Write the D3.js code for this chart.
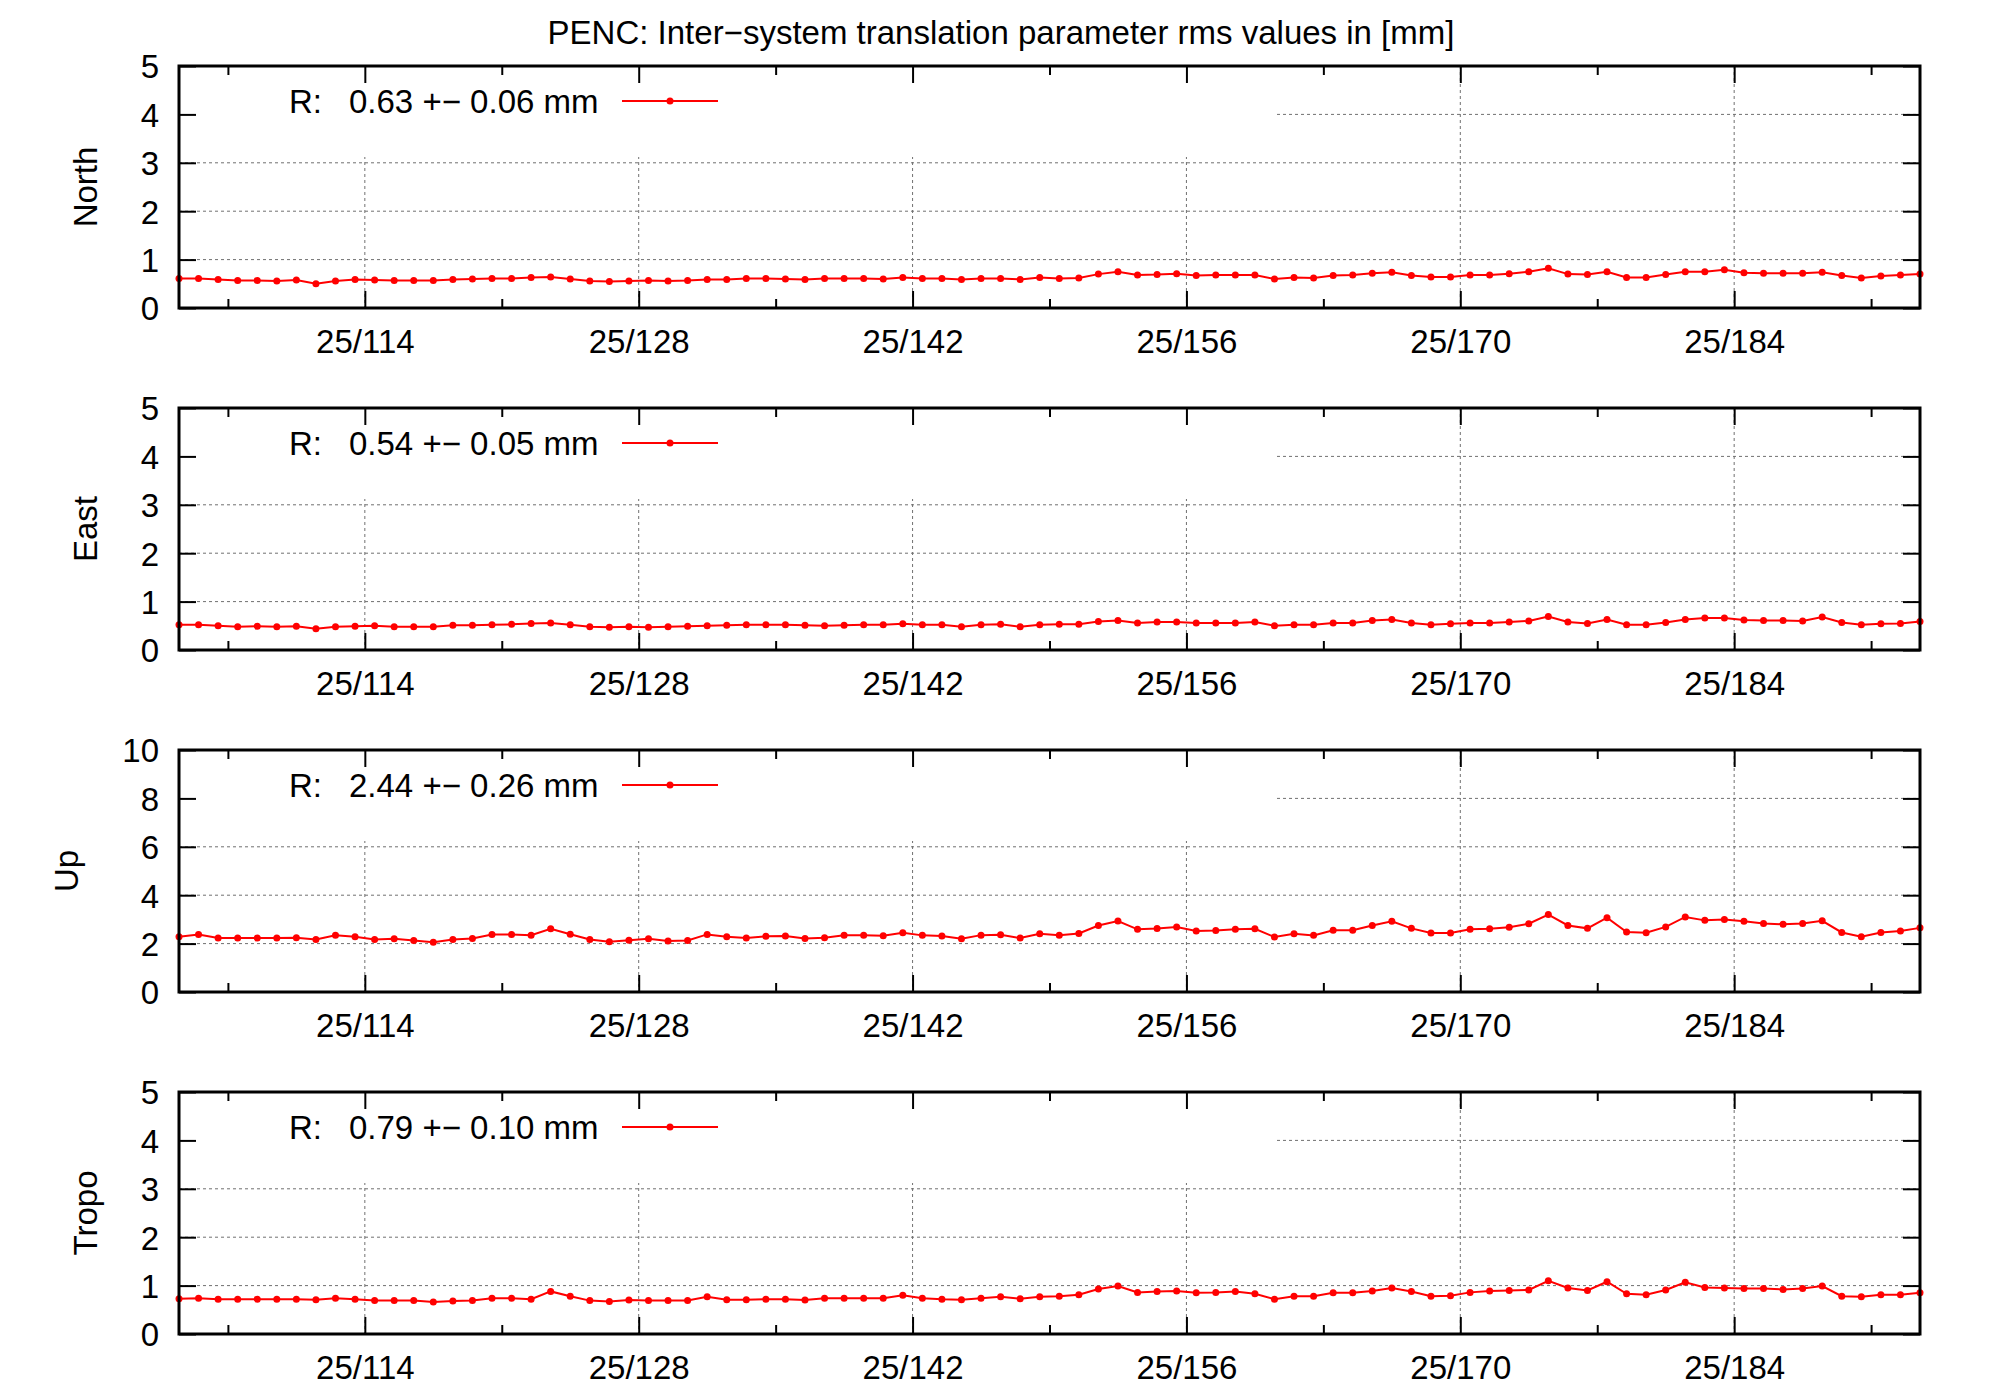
<!DOCTYPE html>
<html>
<head>
<meta charset="utf-8">
<title>PENC inter-system translation rms</title>
<script src="https://cdnjs.cloudflare.com/ajax/libs/d3/7.8.5/d3.min.js"></script>
<style>
	body { margin: 0; background: #ffffff; }
	text { font-family: "Liberation Sans", Arial, Helvetica, sans-serif; font-size: 33px; fill: #000000; }
</style>
</head>
<body>
<svg id="chart" width="2000" height="1400"></svg>
<script>

// day of year 2025, one solution per day (plotted at noon)
var days = [
	104,105,106,107,108,109,110,111,112,113,
	114,115,116,117,118,119,120,121,122,123,
	124,125,126,127,128,129,130,131,132,133,
	134,135,136,137,138,139,140,141,142,143,
	144,145,146,147,148,149,150,151,152,153,
	154,155,156,157,158,159,160,161,162,163,
	164,165,166,167,168,169,170,171,172,173,
	174,175,176,177,178,179,180,181,182,183,
	184,185,186,187,188,189,190,191,192,193
];

var xTickDays = [114, 128, 142, 156, 170, 184];
var xTickLabels = ["25/114", "25/128", "25/142", "25/156", "25/170", "25/184"];
var xMinorDays = [107, 121, 135, 149, 163, 177, 191];

var panelNames = ["North", "East", "Up", "Tropo"];
var panelYMax = [5, 5, 10, 5];
var keyValues = ["0.63 +\u2212 0.06 mm", "0.54 +\u2212 0.05 mm", "2.44 +\u2212 0.26 mm", "0.79 +\u2212 0.10 mm"];

var northRms = [
	0.61,0.61,0.59,0.57,0.57,0.56,0.58,0.50,0.56,0.59,
	0.58,0.57,0.57,0.57,0.59,0.60,0.61,0.61,0.63,0.64,
	0.60,0.56,0.55,0.56,0.57,0.56,0.57,0.59,0.59,0.61,
	0.61,0.60,0.59,0.61,0.61,0.61,0.60,0.63,0.61,0.61,
	0.59,0.61,0.61,0.59,0.63,0.61,0.62,0.70,0.75,0.68,
	0.69,0.71,0.67,0.68,0.68,0.68,0.60,0.63,0.62,0.67,
	0.68,0.72,0.74,0.67,0.64,0.64,0.68,0.68,0.71,0.75,
	0.82,0.70,0.69,0.75,0.63,0.63,0.69,0.75,0.75,0.79,
	0.73,0.72,0.72,0.72,0.74,0.67,0.62,0.66,0.68,0.70
];

var eastRms = [
	0.52,0.52,0.50,0.48,0.49,0.48,0.49,0.44,0.48,0.49,
	0.50,0.48,0.48,0.48,0.51,0.51,0.52,0.53,0.55,0.56,
	0.52,0.48,0.47,0.48,0.47,0.48,0.49,0.50,0.51,0.52,
	0.52,0.52,0.51,0.50,0.51,0.52,0.52,0.54,0.52,0.52,
	0.48,0.52,0.53,0.48,0.52,0.53,0.53,0.59,0.61,0.56,
	0.58,0.58,0.56,0.56,0.56,0.58,0.50,0.52,0.52,0.56,
	0.56,0.61,0.63,0.56,0.52,0.54,0.56,0.56,0.58,0.60,
	0.69,0.58,0.55,0.63,0.52,0.52,0.57,0.63,0.66,0.66,
	0.62,0.61,0.61,0.60,0.68,0.57,0.52,0.54,0.55,0.59
];

var upRms = [
	2.28,2.38,2.23,2.23,2.23,2.23,2.24,2.17,2.34,2.28,
	2.17,2.20,2.13,2.06,2.17,2.21,2.38,2.38,2.35,2.61,
	2.39,2.17,2.08,2.14,2.20,2.11,2.13,2.38,2.28,2.23,
	2.30,2.31,2.21,2.24,2.34,2.34,2.32,2.45,2.34,2.31,
	2.20,2.35,2.37,2.23,2.41,2.35,2.42,2.75,2.93,2.59,
	2.62,2.69,2.52,2.54,2.59,2.61,2.27,2.41,2.34,2.55,
	2.55,2.75,2.92,2.63,2.44,2.44,2.59,2.61,2.68,2.82,
	3.20,2.75,2.63,3.07,2.48,2.45,2.69,3.10,2.96,3.00,
	2.92,2.83,2.80,2.83,2.94,2.46,2.28,2.46,2.52,2.65
];

var tropoRms = [
	0.73,0.74,0.72,0.72,0.72,0.72,0.72,0.71,0.74,0.72,
	0.69,0.69,0.69,0.66,0.68,0.69,0.74,0.74,0.72,0.88,
	0.78,0.69,0.67,0.70,0.69,0.69,0.69,0.77,0.71,0.71,
	0.72,0.72,0.70,0.74,0.74,0.74,0.74,0.80,0.74,0.72,
	0.71,0.74,0.77,0.73,0.77,0.78,0.81,0.93,0.99,0.86,
	0.88,0.89,0.85,0.86,0.88,0.83,0.72,0.78,0.78,0.85,
	0.85,0.89,0.95,0.88,0.78,0.79,0.86,0.89,0.90,0.91,
	1.10,0.95,0.90,1.08,0.83,0.81,0.91,1.07,0.96,0.95,
	0.94,0.94,0.92,0.94,0.99,0.78,0.77,0.81,0.81,0.85
];

var panelSeries = [northRms, eastRms, upRms, tropoRms];


// layout
var plotLeft = 179;
var plotRight = 1920;
var firstTop = 66;
var panelHeight = 242;
var panelPitch = 342;
var keyBoxRight = 1275;
var keyBoxHeight = 91;

var lineColor = "#ff0000";
var gridColor = "#707070";

var svg = d3.select("#chart");

svg.append("rect")
	.attr("width", 2000)
	.attr("height", 1400)
	.attr("fill", "#ffffff");

svg.append("text")
	.attr("x", 1001)
	.attr("y", 44)
	.attr("text-anchor", "middle")
	.text("PENC: Inter\u2212system translation parameter rms values in [mm]");

var x = d3.scaleLinear()
	.domain([104.5, 193.5])
	.range([plotLeft, plotRight]);


function styleAxis(g)
{
	g.attr("font-family", null).attr("font-size", null);
	g.select(".domain").remove();
	g.selectAll(".tick line").attr("stroke", "#000").attr("stroke-width", 2);
}


function drawPanel(idx)
{
	var top = firstTop + idx * panelPitch;
	var bottom = top + panelHeight;
	var values = panelSeries[idx];

	var y = d3.scaleLinear()
		.domain([0, panelYMax[idx]])
		.range([bottom, top]);

	var yTicks = y.ticks(5);
	var g = svg.append("g").attr("class", "panel");

	// grid, at the back
	var grid = g.append("g")
		.attr("stroke", gridColor)
		.attr("stroke-width", 1)
		.attr("stroke-dasharray", "3,3");

	grid.selectAll("line.hgrid")
		.data(yTicks.filter(function(t) { return t > 0 && t < panelYMax[idx]; }))
		.enter().append("line")
		.attr("x1", plotLeft).attr("x2", plotRight)
		.attr("y1", function(d) { return y(d); })
		.attr("y2", function(d) { return y(d); });

	grid.selectAll("line.vgrid")
		.data(xTickDays)
		.enter().append("line")
		.attr("x1", function(d) { return x(d); })
		.attr("x2", function(d) { return x(d); })
		.attr("y1", top).attr("y2", bottom);

	// opaque key area hides the grid behind it
	g.append("rect")
		.attr("x", plotLeft)
		.attr("y", top)
		.attr("width", keyBoxRight - plotLeft)
		.attr("height", keyBoxHeight)
		.attr("fill", "#ffffff");

	// data
	var points = days.map(function(d, i) { return {day: d + 0.5, v: values[i]}; });

	var line = d3.line()
		.x(function(d) { return x(d.day); })
		.y(function(d) { return y(d.v); });

	g.append("path")
		.datum(points)
		.attr("d", line)
		.attr("fill", "none")
		.attr("stroke", lineColor)
		.attr("stroke-width", 2);

	g.selectAll("circle.pt")
		.data(points)
		.enter().append("circle")
		.attr("class", "pt")
		.attr("cx", function(d) { return x(d.day); })
		.attr("cy", function(d) { return y(d.v); })
		.attr("r", 3.5)
		.attr("fill", lineColor);

	// axes, ticks inward on all four sides
	g.append("g")
		.attr("transform", "translate(0," + bottom + ")")
		.call(d3.axisBottom(x).tickValues(xTickDays)
			.tickFormat(function(d, i) { return xTickLabels[i]; })
			.tickSize(-17).tickPadding(22))
		.call(styleAxis);

	g.append("g")
		.attr("transform", "translate(0," + bottom + ")")
		.call(d3.axisBottom(x).tickValues(xMinorDays).tickFormat("").tickSize(-9))
		.call(styleAxis);

	g.append("g")
		.attr("transform", "translate(0," + top + ")")
		.call(d3.axisTop(x).tickValues(xTickDays).tickFormat("").tickSize(-17))
		.call(styleAxis);

	g.append("g")
		.attr("transform", "translate(0," + top + ")")
		.call(d3.axisTop(x).tickValues(xMinorDays).tickFormat("").tickSize(-9))
		.call(styleAxis);

	var leftAxis = g.append("g")
		.attr("transform", "translate(" + plotLeft + ",0)")
		.call(d3.axisLeft(y).tickValues(yTicks).tickFormat(d3.format("d"))
			.tickSize(-17).tickPadding(20))
		.call(styleAxis);

	leftAxis.selectAll("text").attr("dy", "0.36em");

	g.append("g")
		.attr("transform", "translate(" + plotRight + ",0)")
		.call(d3.axisRight(y).tickValues(yTicks).tickFormat("").tickSize(-17))
		.call(styleAxis);

	g.append("rect")
		.attr("x", plotLeft)
		.attr("y", top)
		.attr("width", plotRight - plotLeft)
		.attr("height", panelHeight)
		.attr("fill", "none")
		.attr("stroke", "#000")
		.attr("stroke-width", 3);

	// y label sits left of the widest tick label
	var maxW = 0;
	leftAxis.selectAll("text").each(function() {
		maxW = Math.max(maxW, this.getComputedTextLength());
	});
	var labelX = plotLeft - 20 - maxW - 44;

	g.append("text")
		.attr("transform", "translate(" + labelX + "," + (top + panelHeight / 2) + ") rotate(-90)")
		.attr("text-anchor", "middle")
		.text(panelNames[idx]);

	// key
	g.append("text")
		.attr("x", 289)
		.attr("y", top + 47)
		.text("R:");

	g.append("text")
		.attr("x", 349)
		.attr("y", top + 47)
		.text(keyValues[idx]);

	g.append("line")
		.attr("x1", 622).attr("x2", 718)
		.attr("y1", top + 35).attr("y2", top + 35)
		.attr("stroke", lineColor)
		.attr("stroke-width", 2);

	g.append("circle")
		.attr("cx", 670)
		.attr("cy", top + 35)
		.attr("r", 3.5)
		.attr("fill", lineColor);
}


for (var i = 0; i < panelNames.length; i++)
{
	drawPanel(i);
}

</script>
</body>
</html>
